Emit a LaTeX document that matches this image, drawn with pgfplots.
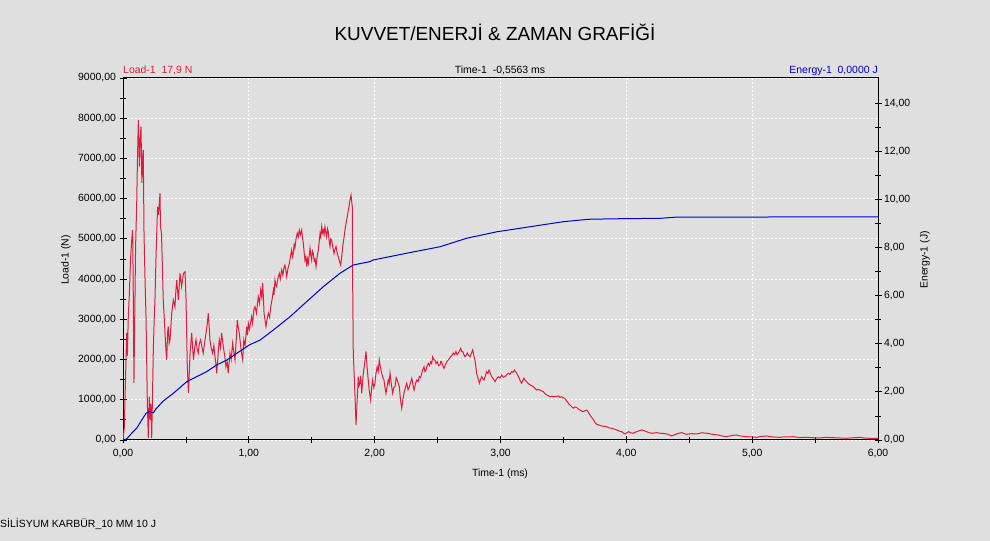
\documentclass[border=0pt]{standalone}
\usepackage{pgfplots}
\pgfplotsset{compat=1.18}
\usepackage{fontspec}
\setmainfont{Liberation Sans}
\definecolor{bgc}{RGB}{223,223,223}
\definecolor{loadred}{RGB}{220,30,60}
\definecolor{enblue}{RGB}{0,0,200}
\pgfplotsset{
  numfmt/.style={/pgf/number format/fixed, /pgf/number format/fixed zerofill, /pgf/number format/precision=2, /pgf/number format/use comma, /pgf/number format/1000 sep={}, /pgf/number format/assume math mode=true},
}
\begin{document}
\begin{tikzpicture}[x=1bp,y=1bp]
\fill[bgc] (0,0) rectangle (990,541);
\begin{axis}[
  at={(123bp,101bp)}, anchor=south west,
  scale only axis, width=755bp, height=362bp,
  xmin=0, xmax=6, ymin=0, ymax=9000,
  xtick={0,1,2,3,4,5,6}, minor x tick num=1,
  ytick={0,1000,...,9000}, minor y tick num=1,
  xtick pos=bottom, ytick pos=left,
  tick align=center,
  major tick length=7bp, minor tick length=6bp,
  every tick/.style={black, line width=0.8bp},
  axis line style={black, line width=1bp},
  grid=major,
  major grid style={white, line width=0.9bp, dash pattern=on 1.5bp off 2.5bp},
  xticklabel style={font=\fontsize{10.5}{12}\selectfont, numfmt, yshift=-2bp},
  yticklabel style={font=\fontsize{10.5}{12}\selectfont, numfmt},
  clip=true,
]
\addplot[loadred, line width=1bp] coordinates {
(0.000,0) (0.010,300) (0.020,1500) (0.029,2660) (0.035,2100) (0.042,3065) (0.050,3600)
(0.060,4500) (0.070,5000) (0.077,5220) (0.082,3500) (0.087,1417) (0.091,2500) (0.095,3480)
(0.100,4800) (0.109,5890) (0.115,7000) (0.122,7955) (0.127,7300) (0.131,6795) (0.137,7500)
(0.143,7790) (0.150,6390) (0.155,7000) (0.161,7210) (0.167,5140) (0.175,4000) (0.183,3065)
(0.193,995) (0.201,50) (0.205,600) (0.209,1075) (0.215,500) (0.222,900) (0.228,50)
(0.235,1200) (0.241,2240) (0.248,3000) (0.254,3480) (0.262,4500) (0.268,5140) (0.275,5800)
(0.282,5600) (0.294,6130) (0.298,5300) (0.306,5140) (0.313,4300) (0.320,3480) (0.334,2660)
(0.340,2300) (0.347,1990) (0.355,2700) (0.360,2820) (0.367,2400) (0.374,2490) (0.387,3150)
(0.400,3480) (0.413,3315) (0.420,3700) (0.427,3980) (0.440,3480) (0.453,4140) (0.466,3810)
(0.480,4140) (0.493,4180) (0.501,3480) (0.511,1820) (0.520,1170) (0.533,2160) (0.546,2660)
(0.560,1990) (0.570,2300) (0.580,2490) (0.590,2250) (0.598,2160) (0.607,2400) (0.617,2490)
(0.628,2300) (0.638,2160) (0.650,2450) (0.660,2660) (0.670,2900) (0.678,3150) (0.685,2800)
(0.691,2490) (0.700,2300) (0.712,2160) (0.722,2350) (0.731,2070) (0.738,1900) (0.745,1660)
(0.755,2100) (0.765,2490) (0.775,2300) (0.784,2660) (0.790,2500) (0.797,2320) (0.808,2100)
(0.818,1820) (0.828,1950) (0.836,1660) (0.843,1900) (0.850,2160) (0.860,2000) (0.871,2410)
(0.880,2200) (0.890,1990) (0.900,2500) (0.908,2980) (0.916,2800) (0.924,2660) (0.933,2400)
(0.942,2160) (0.951,1990) (0.960,2490) (0.970,2350) (0.983,2820) (0.990,2600) (0.996,2900)
(1.005,2750) (1.022,3065) (1.030,2900) (1.040,3250) (1.049,3315) (1.060,3150) (1.075,3560)
(1.085,3400) (1.094,3730) (1.103,3550) (1.110,3900) (1.115,3600) (1.121,3150) (1.136,2820)
(1.145,3000) (1.155,3150) (1.165,3050) (1.174,3315) (1.185,3500) (1.195,3730) (1.200,3600)
(1.208,3980) (1.215,3850) (1.221,3810) (1.230,4000) (1.242,4140) (1.250,4000) (1.261,4230)
(1.270,4100) (1.280,4300) (1.287,4350) (1.295,4200) (1.301,4060) (1.310,4250) (1.322,4390)
(1.330,4550) (1.340,4720) (1.347,4550) (1.353,4640) (1.360,4850) (1.366,4770) (1.375,5000)
(1.385,5140) (1.393,5050) (1.401,5220) (1.410,5100) (1.420,5220) (1.427,5000) (1.433,4890)
(1.440,4650) (1.446,4470) (1.453,4550) (1.460,4310) (1.466,4500) (1.473,4390) (1.480,4600)
(1.486,4770) (1.492,4600) (1.499,4470) (1.505,4700) (1.512,4640) (1.520,4450) (1.527,4500)
(1.534,4310) (1.543,4550) (1.552,4720) (1.560,4950) (1.566,5140) (1.572,5050) (1.579,5300)
(1.585,5150) (1.592,5220) (1.598,5100) (1.605,5300) (1.612,5150) (1.618,5050) (1.625,5250)
(1.631,5180) (1.638,4950) (1.645,4810) (1.651,5000) (1.658,4970) (1.667,4800) (1.677,4640)
(1.685,4750) (1.693,4810) (1.702,4650) (1.711,4560) (1.720,4450) (1.730,4350) (1.738,4550)
(1.746,4810) (1.755,5000) (1.764,5220) (1.773,5400) (1.782,5550) (1.793,5750) (1.804,5970)
(1.812,6090) (1.822,5800) (1.825,3980)
(1.830,2160) (1.843,1160) (1.852,373) (1.862,1075) (1.870,1575) (1.876,1350) (1.883,1410)
(1.890,1600) (1.897,1160) (1.903,1400) (1.910,1660) (1.920,1900) (1.931,2200) (1.940,1800)
(1.949,1490) (1.958,1200) (1.968,995) (1.976,1300) (1.984,1490) (1.993,1300) (2.002,1410)
(2.010,1650) (2.020,1820) (2.028,1700) (2.037,1990) (2.046,1800) (2.056,1660) (2.065,1550)
(2.074,1490) (2.082,1300) (2.090,1160) (2.100,1350) (2.108,1490) (2.115,1400) (2.122,1660)
(2.132,1400) (2.143,1160) (2.152,1300) (2.162,1325) (2.171,1550) (2.180,1490) (2.188,1400)
(2.196,1325) (2.205,1000) (2.215,790) (2.224,1000) (2.233,1160) (2.244,1300) (2.255,1410)
(2.265,1250) (2.276,1325) (2.286,1450) (2.295,1535) (2.304,1380) (2.313,1240) (2.324,1400)
(2.334,1490) (2.345,1450) (2.355,1575) (2.365,1550) (2.374,1660) (2.383,1750) (2.392,1820)
(2.400,1700) (2.408,1740) (2.417,1850) (2.426,1905) (2.435,1850) (2.445,1945) (2.453,1900)
(2.461,2070) (2.470,2000) (2.479,1990) (2.488,1900) (2.497,1945) (2.508,1850) (2.519,1865)
(2.525,1950) (2.532,1945) (2.541,1850) (2.551,1780) (2.559,1850) (2.567,1905) (2.576,1960)
(2.585,1990) (2.595,2030) (2.604,2070) (2.614,2100) (2.625,2160) (2.635,2120) (2.646,2200)
(2.655,2120) (2.665,2160) (2.675,2220) (2.684,2280) (2.692,2200) (2.700,2200) (2.709,2120)
(2.718,2070) (2.727,2110) (2.736,2160) (2.747,2100) (2.758,2070) (2.768,2150) (2.779,2240)
(2.788,2100) (2.797,1990) (2.803,1850) (2.810,1660) (2.820,1550) (2.832,1410) (2.841,1500)
(2.851,1575) (2.860,1520) (2.869,1490) (2.880,1600) (2.890,1700) (2.900,1650) (2.909,1740)
(2.920,1650) (2.930,1575) (2.943,1520) (2.956,1450) (2.970,1530) (2.983,1575) (2.996,1540)
(3.009,1615) (3.022,1560) (3.036,1575) (3.049,1620) (3.062,1660) (3.075,1630) (3.089,1700)
(3.100,1680) (3.110,1740) (3.120,1700) (3.129,1660) (3.139,1600) (3.149,1535) (3.158,1460)
(3.168,1410) (3.177,1480) (3.186,1535) (3.197,1480) (3.208,1450) (3.221,1400) (3.235,1370)
(3.248,1350) (3.261,1325) (3.275,1280) (3.288,1240) (3.300,1260) (3.314,1240) (3.327,1220)
(3.341,1200) (3.354,1150) (3.367,1120) (3.380,1100) (3.393,1075) (3.407,1090) (3.420,1075)
(3.440,1080) (3.460,1095) (3.473,1060) (3.486,1075) (3.498,1050) (3.510,1035) (3.520,990)
(3.531,950) (3.542,900) (3.552,870) (3.565,830) (3.578,790) (3.591,820) (3.605,810)
(3.618,770) (3.632,745) (3.645,720) (3.658,705) (3.672,730) (3.685,745) (3.698,690)
(3.711,620) (3.725,560) (3.740,497) (3.752,430) (3.764,390) (3.784,370) (3.804,350)
(3.824,340) (3.844,330) (3.864,300) (3.884,290) (3.904,270) (3.924,250) (3.944,220)
(3.964,206) (3.977,170) (3.990,150) (4.003,180) (4.016,206) (4.036,180) (4.056,166)
(4.069,190) (4.082,206) (4.102,230) (4.122,250) (4.142,230) (4.162,206) (4.182,180)
(4.202,166) (4.222,175) (4.241,182) (4.261,170) (4.281,166) (4.301,160) (4.321,150)
(4.340,130) (4.360,100) (4.380,130) (4.400,150) (4.420,170) (4.440,182) (4.460,160)
(4.480,140) (4.500,150) (4.520,160) (4.540,150) (4.559,150) (4.580,165) (4.600,180)
(4.625,170) (4.650,166) (4.670,150) (4.690,140) (4.710,130) (4.730,125) (4.760,100)
(4.798,83) (4.820,100) (4.840,110) (4.860,120) (4.877,125) (4.897,105) (4.917,95)
(4.937,90) (4.957,83) (5.000,75) (5.036,66) (5.056,80) (5.076,90) (5.096,95) (5.116,100)
(5.140,85) (5.170,75) (5.195,70) (5.220,66) (5.245,75) (5.270,80) (5.300,78) (5.327,83)
(5.355,70) (5.380,60) (5.405,65) (5.433,66) (5.460,60) (5.490,55) (5.515,52) (5.539,50)
(5.565,60) (5.590,65) (5.620,60) (5.645,58) (5.672,54) (5.700,50) (5.725,46) (5.751,42)
(5.775,50) (5.800,55) (5.830,60) (5.857,66) (5.880,55) (5.900,45) (5.937,42) (5.970,40)
(6.000,42)
};
\end{axis}
\begin{axis}[
  at={(123bp,101bp)}, anchor=south west,
  scale only axis, width=755bp, height=362bp,
  xmin=0, xmax=6, ymin=0, ymax=15.04,
  axis y line*=right, axis x line=none,
  ytick={0,2,...,14}, minor y tick num=1,
  tick align=center,
  major tick length=7bp, minor tick length=6bp,
  every tick/.style={black, line width=0.8bp},
  axis line style={black, line width=1bp},
  yticklabel style={font=\fontsize{10.5}{12}\selectfont, numfmt, xshift=-1bp},
]
\addplot[enblue, line width=1bp] coordinates {
(0,0) (0.03,0.05) (0.069,0.28) (0.109,0.49) (0.149,0.83) (0.183,1.11) (0.209,1.18)
(0.241,1.13) (0.26,1.28) (0.32,1.62) (0.40,1.94) (0.506,2.42) (0.585,2.63) (0.665,2.84)
(0.745,3.12) (0.824,3.32) (0.904,3.60) (1.004,3.95) (1.089,4.15) (1.195,4.57) (1.327,5.12)
(1.46,5.75) (1.592,6.37) (1.725,6.93) (1.83,7.27) (1.963,7.41) (1.99,7.48) (2.255,7.76)
(2.52,8.03) (2.73,8.38) (2.917,8.59) (2.97,8.65) (3.235,8.86) (3.5,9.07) (3.70,9.17)
(3.90,9.19) (4.27,9.21) (4.40,9.26) (6.0,9.27)
};
\end{axis}
% texts
\node[font=\fontsize{19}{22}\selectfont] at (495,509) {KUVVET/ENERJİ \& ZAMAN GRAFİĞİ};
\node[font=\fontsize{10.5}{12}\selectfont, text=loadred, anchor=base west, inner sep=0] at (123,467) {Load-1\ \ 17,9 N};
\node[font=\fontsize{10.5}{12}\selectfont, anchor=base, inner sep=0] at (500,467) {Time-1\ \ -0,5563 ms};
\node[font=\fontsize{10.5}{12}\selectfont, text=enblue, anchor=base east, inner sep=0] at (878,467) {Energy-1\ \ 0,0000 J};
\node[font=\fontsize{10.5}{12}\selectfont, rotate=90] at (66,281) {Load-1 (N)};
\node[font=\fontsize{10.5}{12}\selectfont, rotate=90] at (925,281) {Energy-1 (J)};
\node[font=\fontsize{10.5}{12}\selectfont] at (500,67) {Time-1 (ms)};
\node[font=\fontsize{10.5}{12}\selectfont, anchor=west, inner sep=0] at (0,17) {SİLİSYUM KARBÜR\_10 MM 10 J};
\end{tikzpicture}
\end{document}
